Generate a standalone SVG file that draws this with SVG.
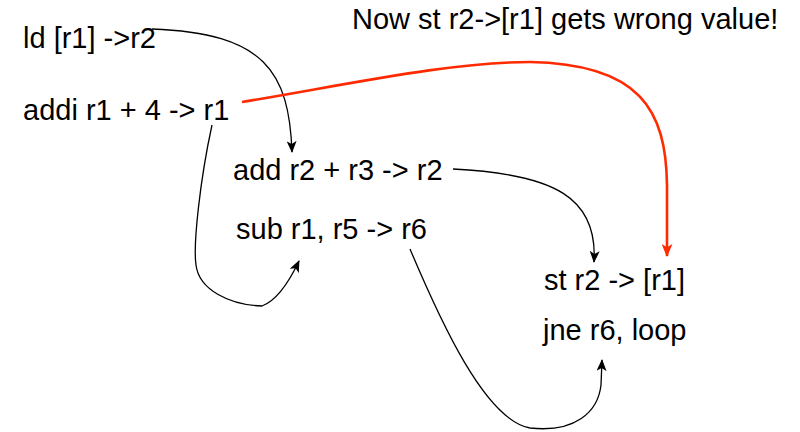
<svg xmlns="http://www.w3.org/2000/svg" width="800" height="432" viewBox="0 0 800 432">
<defs>
<style>
text{font-family:"Liberation Sans",Arial,sans-serif;font-size:29px;fill:#000}
.c{fill:none;stroke:#000;stroke-width:1.3}
.r{fill:none;stroke:#ff2a00;stroke-width:2.6}
</style>
<marker id="ab" viewBox="0 0 12 10" refX="11" refY="5" markerWidth="12" markerHeight="10" markerUnits="userSpaceOnUse" orient="auto">
<path d="M0,0 L12,5 L0,10 L3,5 z" fill="#000"/>
</marker>
<marker id="ar" viewBox="0 0 12 10" refX="11" refY="5" markerWidth="13" markerHeight="11" markerUnits="userSpaceOnUse" orient="auto">
<path d="M0,0 L12,5 L0,10 L3,5 z" fill="#ff2a00"/>
</marker>
</defs>
<rect width="800" height="432" fill="#fff"/>
<g id="connectors">
<path class="c" d="M152,29 C265,33 289,72 292,152" marker-end="url(#ab)"/>
<path class="c" d="M212,125 C200,180 193,245 196,265 C199,290 230,305 262,306 C278,300 290,280 299,261" marker-end="url(#ab)"/>
<path class="c" d="M453,169 C555,174 598,198 594,262" marker-end="url(#ab)"/>
<path class="c" d="M410,249 C440,320 485,420 530,428 C575,433 598,412 601,385 L602,360" marker-end="url(#ab)"/>
<path class="r" d="M242,102 C350,84 450,62 530,62 C640,64 666,110 667,185 L667,256" marker-end="url(#ar)"/>
</g>
<g id="title"><text x="352" y="29">Now st r2-&gt;[r1] gets wrong value!</text></g>
<g id="n1"><text x="23" y="48">ld [r1] -&gt;r2</text></g>
<g id="n2"><text x="23" y="120">addi r1 + 4 -&gt; r1</text></g>
<g id="n3"><text x="233" y="180">add r2 + r3 -&gt; r2</text></g>
<g id="n4"><text x="236" y="239">sub r1, r5 -&gt; r6</text></g>
<g id="n5"><text x="544" y="290">st r2 -&gt; [r1]</text></g>
<g id="n6"><text x="543" y="340">jne r6, loop</text></g>
</svg>
